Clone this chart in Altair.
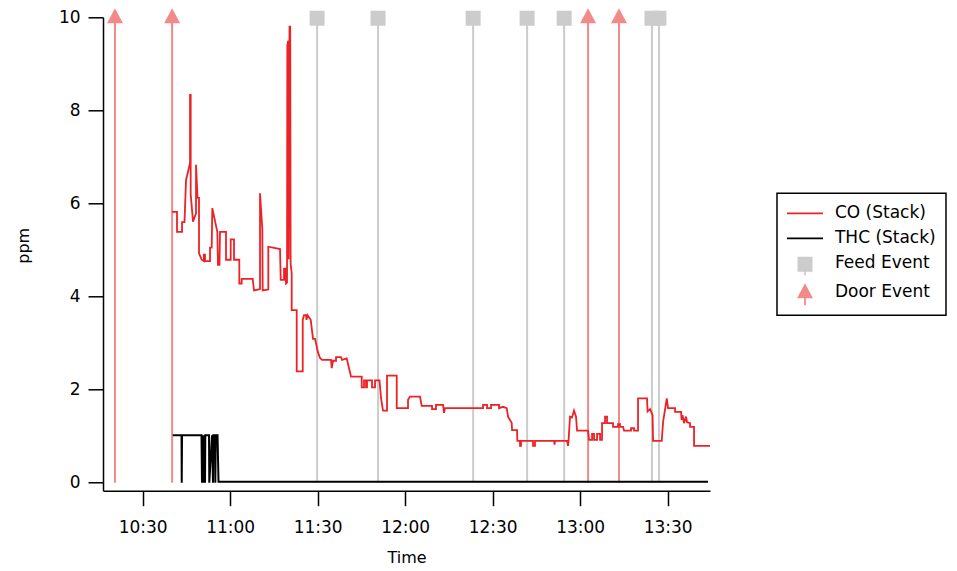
import altair as alt
import pandas as pd

# ---------------- data (time = minutes after 10:00) ----------------
co_min = [40.06, 41.77, 41.77, 43.49, 43.49, 44.34, 44.86, 45.54, 46.23, 46.23, 46.46, 46.46, 47.26, 48.29, 48.29,
          48.8, 49.31, 49.31, 50.24, 51.0, 51.0, 51.37, 51.37, 53.09, 53.09, 53.67, 53.87, 55.59, 55.82, 56.34,
          56.51, 58.57, 58.57, 60.18, 60.18, 61.31, 61.31, 63.13, 63.13, 63.95, 63.95, 67.73, 68.17, 70.23, 70.23,
          71.02, 71.15, 73.07, 73.07, 77.09, 77.33, 78.46, 78.46, 78.97, 79.14, 79.49, 79.59, 79.9, 80.03, 80.34,
          80.58, 80.72, 81.09, 81.09, 82.81, 82.81, 84.87, 84.87, 85.31, 85.99, 86.17, 86.51, 87.61, 88.4, 89.09,
          89.6, 90.11, 90.8, 91.49, 94.57, 94.81, 95.26, 96.29, 96.29, 98.0, 98.35, 99.95, 101.43, 105.1, 105.1,
          105.88, 105.88, 106.57, 106.57, 106.91, 106.91, 108.63, 108.63, 109.66, 109.66, 111.2, 111.71, 112.4,
          113.77, 113.77, 117.1, 117.1, 120.97, 120.97, 121.66, 125.09, 125.67, 129.2, 129.2, 130.56, 130.56,
          132.97, 133.31, 133.66, 146.69, 146.69, 148.06, 148.06, 149.43, 149.43, 152.17, 152.17, 153.54, 154.81,
          155.26, 156.53, 156.63, 158.35, 158.45, 159.37, 159.37, 159.71, 159.71, 163.83, 163.83, 164.51, 164.51,
          171.03, 171.2, 171.37, 175.48, 175.83, 176.0, 176.51, 177.2, 177.88, 178.57, 178.92, 182.69, 183.04,
          184.07, 184.07, 184.75, 184.75, 185.78, 185.78, 186.81, 186.81, 187.49, 187.49, 188.52, 188.52, 189.2,
          189.2, 191.26, 191.26, 192.97, 192.97, 193.66, 193.66, 194.69, 195.03, 197.43, 197.43, 198.46, 198.46,
          199.83, 199.83, 202.92, 203.09, 203.95, 204.81, 204.98, 207.96, 208.41, 209.68, 210.12, 212.52, 212.52,
          214.58, 214.75, 215.09, 215.61, 216.29, 216.64, 217.66, 217.66, 219.03, 219.03, 224.52]
co_ppm = [5.82, 5.82, 5.39, 5.39, 5.60, 5.60, 6.50, 6.68, 6.87, 8.33, 8.33, 6.20, 5.61, 5.79, 6.83,
          6.12, 6.12, 4.93, 4.79, 4.76, 4.90, 4.90, 4.76, 4.76, 5.05, 5.05, 5.90, 5.39, 4.68, 4.68,
          5.39, 5.39, 4.79, 4.79, 5.23, 5.23, 4.79, 4.79, 4.28, 4.28, 4.38, 4.38, 4.13, 4.16, 6.22,
          5.45, 4.13, 4.15, 5.07, 5.02, 4.36, 4.36, 4.60, 4.60, 4.28, 4.30, 9.40, 9.50, 4.80, 9.80,
          9.80, 4.70, 4.50, 3.71, 3.71, 2.39, 2.39, 3.50, 3.60, 3.60, 3.50, 3.60, 3.50, 3.09, 3.09,
          2.94, 2.80, 2.68, 2.64, 2.64, 2.46, 2.62, 2.62, 2.70, 2.70, 2.64, 2.67, 2.28, 2.28, 2.05,
          2.05, 2.20, 2.20, 2.05, 2.05, 2.20, 2.20, 2.05, 2.05, 2.20, 2.20, 1.82, 1.55,
          1.55, 2.30, 2.30, 1.60, 1.60, 1.78, 1.85, 1.85, 1.65, 1.65, 1.58, 1.58, 1.67,
          1.67, 1.50, 1.60, 1.60, 1.67, 1.67, 1.60, 1.60, 1.67, 1.67, 1.60, 1.63, 1.60,
          1.42, 1.28, 1.13, 1.13, 0.90, 0.90, 0.79, 0.79, 0.90, 0.90, 0.79, 0.79, 0.90,
          0.90, 0.82, 0.90, 0.90, 0.79, 0.90, 1.42, 1.40, 1.55, 1.42, 1.12, 1.12, 0.92,
          0.92, 1.05, 1.05, 0.92, 0.92, 1.05, 1.05, 0.92, 0.92, 1.28, 1.28, 1.42, 1.42,
          1.28, 1.28, 1.20, 1.20, 1.26, 1.26, 1.20, 1.20, 1.12, 1.12, 1.17, 1.17, 1.12,
          1.12, 1.81, 1.81, 1.53, 1.58, 1.45, 0.90, 0.90, 1.30, 1.81, 1.60, 1.60, 1.52,
          1.52, 1.35, 1.45, 1.28, 1.42, 1.30, 1.28, 1.20, 1.20, 0.79, 0.79]

thc_min = [40.3, 43.32, 43.39, 43.49, 50.17, 50.34, 50.51, 50.86, 51.2, 51.37, 51.47, 52.74, 52.84, 53.77,
           54.11, 54.22, 54.8, 54.9, 55.07, 55.66, 56.0, 223.83]
thc_ppm = [1.02, 1.02, 0.0, 1.02, 1.02, 0.0, 1.02, 0.0, 1.02, 0.0, 1.02, 1.02, 0.0, 1.02,
           0.0, 1.02, 1.02, 0.0, 1.02, 1.02, 0.02, 0.02]

feed_min = [89.8, 110.7, 143.3, 161.8, 174.5, 204.6, 207.0]
door_min = [20.5, 40.1, 182.7, 193.3]

series_names = ["CO (Stack)", "THC (Stack)", "Feed Event", "Door Event"]
series_colors = ["#ec2227", "#000000", "#cccccc", "#f28a8a"]
series_shapes = [
    "M-1.8,-0.09H1.8V0.09H-1.8Z",
    "M-1.8,-0.09H1.8V0.09H-1.8Z",
    "M-0.75,-0.65H0.75V0.85H-0.75Z M-0.09,0.85H0.09V1.2H-0.09Z",
    "M0,-0.9L0.8,0.6L-0.8,0.6Z M-0.09,0.6H0.09V1.3H-0.09Z",
]
x_ticks = [630, 660, 690, 720, 750, 780, 810]
y_ticks = [0, 2, 4, 6, 8, 10]
x_domain = [616.4, 824.5]
y_domain = [-0.172, 10]

# ---------------- tables ----------------
co_df = pd.DataFrame({"t": [600 + m for m in co_min], "ppm": co_ppm, "i": range(len(co_min))})
thc_df = pd.DataFrame({"t": [600 + m for m in thc_min], "ppm": thc_ppm, "i": range(len(thc_min))})
feed_df = pd.DataFrame({"t": [600 + m for m in feed_min], "type": "Feed Event", "lo": 0, "hi": 10})
door_df = pd.DataFrame({"t": [600 + m for m in door_min], "type": "Door Event", "lo": 0, "hi": 10})
events_df = pd.concat([feed_df, door_df], ignore_index=True)

FONT = "DejaVu Sans"
NBSP = "\u00a0"

xenc = alt.X(
    "t:Q",
    scale=alt.Scale(domain=x_domain, nice=False, zero=False),
    axis=alt.Axis(
        values=x_ticks,
        title="Time",
        labelExpr="floor(datum.value/60) + ':' + (datum.value % 60 < 10 ? '0' : '') + (datum.value % 60)",
        tickSize=15,
        labelPadding=14,
        titlePadding=14,
    ),
)
yscale = alt.Scale(domain=y_domain, nice=False, zero=False)
yaxis = alt.Axis(values=y_ticks, title="ppm", tickSize=15, labelPadding=8, titlePadding=27, titleY=228)

feed_rules = alt.Chart(feed_df).mark_rule(color="#cccccc", strokeWidth=2).encode(
    x=xenc, y=alt.Y("lo:Q", scale=yscale, axis=yaxis), y2="hi:Q"
)
door_rules = alt.Chart(door_df).mark_rule(color="#f28a8a", strokeWidth=2).encode(
    x=xenc, y=alt.Y("lo:Q", scale=yscale, axis=yaxis), y2="hi:Q"
)
co_line = alt.Chart(co_df).mark_line(color="#ec2227", strokeWidth=1.8).encode(
    x=xenc, y=alt.Y("ppm:Q", scale=yscale, axis=yaxis), order="i:Q"
)
thc_line = alt.Chart(thc_df).mark_line(color="#000000", strokeWidth=2).encode(
    x=xenc, y=alt.Y("ppm:Q", scale=yscale, axis=yaxis), order="i:Q"
)
leg = alt.Legend(
    title=None, orient="none", legendX=674, legendY=176,
    labelExpr="datum.label + '" + NBSP * 3 + "'",
)
markers = alt.Chart(events_df).mark_point(filled=True, size=400, strokeWidth=0, opacity=1).encode(
    x=xenc,
    y=alt.Y("hi:Q", scale=yscale, axis=yaxis),
    fill=alt.Fill("type:N", scale=alt.Scale(domain=series_names, range=series_colors), legend=leg),
    shape=alt.Shape("type:N", scale=alt.Scale(domain=series_names, range=series_shapes), legend=leg),
)

chart = (
    alt.layer(feed_rules, door_rules, co_line, thc_line, markers)
    .properties(
        width=607,
        height=473.4,
        autosize=alt.AutoSizeParams(type="none"),
        padding={"left": 95, "top": 9.3, "right": 239, "bottom": 76},
    )
    .configure_view(stroke=None)
    .configure_axis(
        grid=False,
        domainColor="black",
        domainWidth=1.5,
        tickColor="black",
        tickWidth=1.5,
        labelColor="black",
        titleColor="black",
        labelFont=FONT,
        titleFont=FONT,
        labelFontSize=17,
        titleFontSize=16,
        titleFontWeight="normal",
    )
    .configure_legend(
        strokeColor="black",
        strokeWidth=1.5,
        padding=10,
        labelFont=FONT,
        labelFontSize=17,
        labelColor="black",
        symbolSize=400,
        symbolStrokeWidth=0,
        rowPadding=7,
        symbolOffset=8,
        labelOffset=20,
    )
)

chart.save("out.html", embed_options={"renderer": "svg", "actions": False})
